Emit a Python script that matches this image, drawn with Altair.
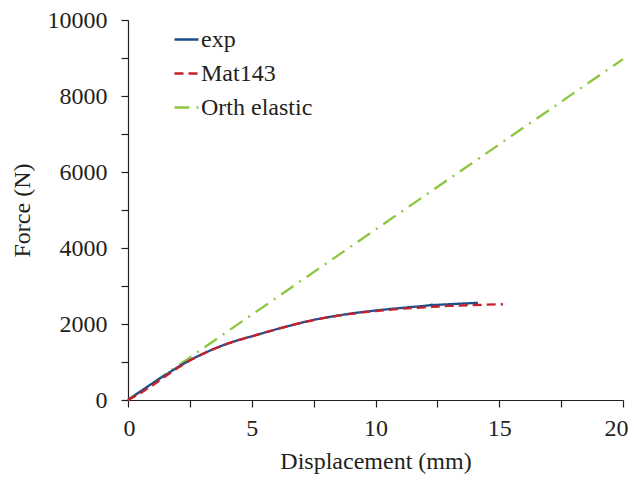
import altair as alt
import pandas as pd

series_names = ["exp", "Mat143", "Orth elastic"]
series_colors = ["#1f4e8c", "#c8202a", "#8cc63f"]
series_dash = [[1, 0], [9, 5], [15, 7, 2, 7]]

exp_x = [0, 0.5, 1.0, 1.5, 2.0, 2.5, 3.0, 3.5, 4.0, 4.5, 5.0, 5.5, 6.0, 6.5, 7.0, 7.5,
         8.0, 8.5, 9.0, 9.5, 10.0, 10.5, 11.0, 11.5, 12.0, 12.2, 12.27, 12.32, 12.8, 13.4, 14.14]
exp_y = [0, 225, 445, 655, 860, 1050, 1210, 1355, 1480, 1585, 1675, 1770, 1862, 1950, 2033, 2110,
         2170, 2225, 2275, 2318, 2355, 2390, 2420, 2450, 2478, 2495, 2510, 2498, 2515, 2535, 2557]

mat_x = [0, 0.5, 1.0, 1.5, 2.0, 2.5, 3.0, 3.5, 4.0, 4.5, 5.0, 5.5, 6.0, 6.5, 7.0, 7.5,
         8.0, 8.5, 9.0, 9.5, 10.0, 11.0, 12.0, 13.0, 14.0, 15.15]
mat_y = [0, 180, 390, 620, 840, 1040, 1205, 1350, 1478, 1585, 1675, 1770, 1862, 1950, 2030, 2105,
         2165, 2218, 2265, 2305, 2340, 2400, 2440, 2475, 2500, 2520]

orth_x = [0, 20]
orth_y = [0, 8970]

rows = []
for name, xs, ys in [("Orth elastic", orth_x, orth_y), ("exp", exp_x, exp_y), ("Mat143", mat_x, mat_y)]:
    for i, (xv, yv) in enumerate(zip(xs, ys)):
        rows.append({"series": name, "x": xv, "y": yv, "i": i})
df = pd.DataFrame(rows)

FONT = "Liberation Serif"
FS = 24

legend = alt.Legend(title=None, orient="none", legendX=45, legendY=6, symbolType="stroke",
                    symbolSize=576, symbolStrokeWidth=2.5, labelFontSize=FS, labelFont=FONT,
                    labelColor="#231f20", labelOffset=1, rowPadding=8, padding=0)

base = alt.Chart(df).mark_line(strokeWidth=2.3).encode(
    x=alt.X("x:Q", title="Displacement (mm)",
            scale=alt.Scale(domain=[0, 20], nice=False),
            axis=alt.Axis(values=[0, 2.5, 5, 7.5, 10, 12.5, 15, 17.5, 20],
                          labelExpr="datum.value % 5 == 0 ? datum.label : ''",
                          labelFlush=True, labelFlushOffset=5,
                          labelOverlap=False, labelPadding=9, titlePadding=9)),
    y=alt.Y("y:Q", title="Force (N)",
            scale=alt.Scale(domain=[0, 10000], nice=False),
            axis=alt.Axis(values=list(range(0, 10001, 1000)), format="d",
                          labelExpr="datum.value % 2000 == 0 ? datum.label : ''",
                          labelFlush=False, labelOverlap=False, labelPadding=14, titlePadding=13)),
    color=alt.Color("series:N", scale=alt.Scale(domain=series_names, range=series_colors), legend=legend),
    strokeDash=alt.StrokeDash("series:N", scale=alt.Scale(domain=series_names, range=series_dash), legend=legend),
    order="i:Q",
)

layers = [base.transform_filter(alt.datum.series == s) for s in ["Orth elastic", "exp", "Mat143"]]

chart = alt.layer(*layers).properties(
    width=495, height=380,
    background="white",
    autosize=alt.AutoSizeParams(type="none"),
    padding={"left": 120, "top": 12, "right": 5, "bottom": 75},
).configure_view(stroke=None).configure_axis(
    grid=False, domainColor="#231f20", tickColor="#231f20", domainWidth=1.2, tickWidth=1.2,
    tickSize=7, labelFont=FONT, titleFont=FONT, labelFontSize=FS, titleFontSize=FS,
    labelColor="#231f20", titleColor="#231f20", titleFontWeight="normal",
)

chart.save("out.html", embed_options={"renderer": "svg", "actions": False})
